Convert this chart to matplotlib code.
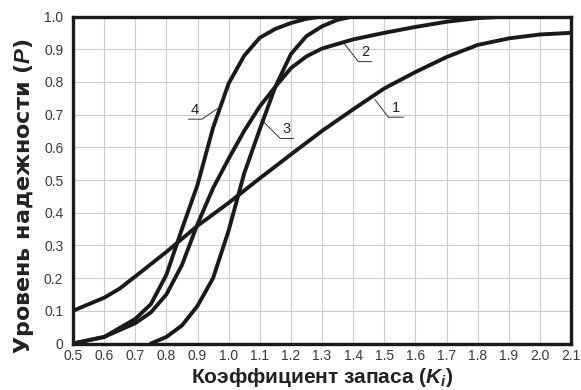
import numpy as np
import matplotlib.pyplot as plt

plt.rcParams['font.family'] = ['Liberation Sans', 'DejaVu Sans']
plt.rcParams['mathtext.fontset'] = 'custom'
plt.rcParams['mathtext.it'] = 'Liberation Sans:italic:bold'
plt.rcParams['mathtext.rm'] = 'Liberation Sans:bold'

# curve 1
k1 = [0.5, 0.55, 0.6, 0.65, 0.7, 0.8, 0.9, 1.0, 1.1, 1.2, 1.3, 1.4, 1.5, 1.6, 1.7, 1.8, 1.9, 2.0, 2.1]
p1 = [0.10, 0.12, 0.14, 0.168, 0.205, 0.28, 0.36, 0.43, 0.505, 0.578, 0.65, 0.716, 0.78, 0.83, 0.876, 0.913, 0.933, 0.945, 0.95]
# curve 2
k2 = [0.5, 0.6, 0.7, 0.75, 0.8, 0.85, 0.9, 0.95, 1.0, 1.05, 1.1, 1.15, 1.2, 1.25, 1.3, 1.4, 1.5, 1.6, 1.7, 1.8, 1.9]
p2 = [0.0, 0.02, 0.062, 0.095, 0.15, 0.24, 0.365, 0.475, 0.565, 0.65, 0.725, 0.785, 0.842, 0.878, 0.902, 0.93, 0.95, 0.968, 0.984, 0.995, 1.0]
# curve 3
k3 = [0.75, 0.8, 0.85, 0.9, 0.95, 1.0, 1.05, 1.1, 1.15, 1.2, 1.25, 1.3, 1.35, 1.4]
p3 = [0.0, 0.02, 0.055, 0.115, 0.2, 0.345, 0.52, 0.655, 0.785, 0.885, 0.94, 0.97, 0.99, 1.0]
# curve 4
k4 = [0.5, 0.6, 0.7, 0.75, 0.8, 0.85, 0.9, 0.95, 1.0, 1.05, 1.1, 1.15, 1.2, 1.25, 1.3]
p4 = [0.0, 0.02, 0.075, 0.12, 0.21, 0.35, 0.485, 0.66, 0.795, 0.88, 0.935, 0.962, 0.98, 0.993, 1.0]

# labels: (text, curve point, elbow, end of underline)
labels = [
    ('1', (1.471, 0.745), (1.513, 0.692), (1.561, 0.692)),
    ('2', (1.369, 0.920), (1.417, 0.862), (1.460, 0.862)),
    ('3', (1.112, 0.678), (1.166, 0.627), (1.208, 0.627)),
    ('4', (0.973, 0.724), (0.914, 0.686), (0.871, 0.686)),
]

fig = plt.figure(figsize=(5.81, 3.90), dpi=100)
ax = fig.add_axes([73 / 581, 1 - 343.5 / 390, 498 / 581, 327 / 390])

for k, p in [(k1, p1), (k2, p2), (k3, p3), (k4, p4)]:
    ax.plot(k, p, color='#1a1a1a', lw=2.8, solid_capstyle='round', solid_joinstyle='round')

for txt, a, b, c in labels:
    ax.plot([a[0], b[0], c[0]], [a[1], b[1], c[1]], color='#333333', lw=0.7)
    ax.text((b[0] + c[0]) / 2, b[1] + 0.008, txt, ha='center', va='bottom', fontsize=10.5, color='#222222')

ax.set_xlim(0.5, 2.1)
ax.set_ylim(0, 1.0)
xt = np.round(np.arange(0.5, 2.11, 0.1), 1)
yt = np.round(np.arange(0, 1.01, 0.1), 1)
ax.set_xticks(xt)
ax.set_yticks(yt)
ax.set_xticklabels([f'{v:.1f}' for v in xt])
ax.set_yticklabels(['0'] + [f'{v:.1f}' for v in yt[1:]])
ax.tick_params(length=0, labelsize=10, colors='#3a3a3a')
ax.tick_params(axis='y', pad=7)
ax.tick_params(axis='x', pad=4)
ax.grid(True, color='#cccccc', lw=0.8)
ax.set_axisbelow(True)
for s in ax.spines.values():
    s.set_linewidth(2.4)
    s.set_color('#1a1a1a')

ax.set_xlabel('Коэффициент запаса ($K_i$)', fontsize=15, fontweight='bold', color='#222222', labelpad=2)
ax.set_ylabel('Уровень надежности ($P$)', fontsize=16, fontweight='bold', color='#222222',
              family=['DejaVu Sans'])
ax.yaxis.set_label_coords(-0.074, 0.45)

fig.savefig('out.png', dpi=100)
